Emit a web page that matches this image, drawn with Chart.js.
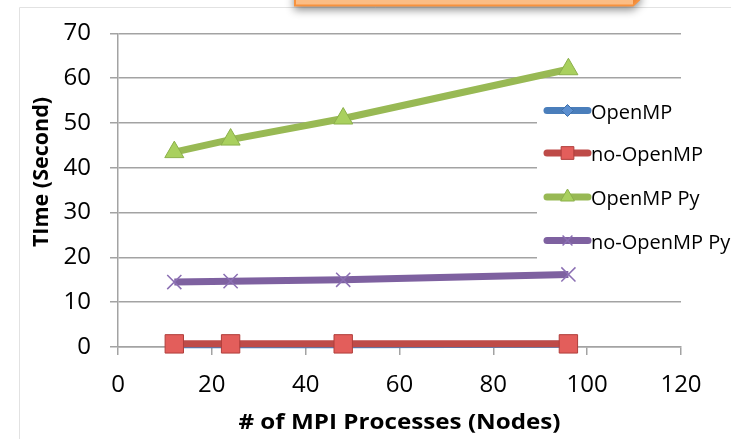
<!DOCTYPE html>
<html>
<head>
<meta charset="utf-8">
<script src="https://cdn.jsdelivr.net/npm/chart.js@4/dist/chart.umd.min.js"></script>
<style>
  html, body { margin: 0; padding: 0; background: #ffffff; }
  #wrap { width: 731px; height: 439px; position: relative; }
</style>
</head>
<body>
<div id="wrap"><canvas id="chart" width="731" height="439"></canvas></div>
<script>
// Number of MPI processes (nodes) on the x axis
const processes = [12, 24, 48, 96];

// Run time in seconds for each configuration
const openmp = [0.5, 0.5, 0.5, 0.6];
const noOpenmp = [0.7, 0.7, 0.7, 0.7];
const openmpPy = [43.5, 46.3, 51, 62];
const noOpenmpPy = [14.5, 14.7, 15, 16.2];

const seriesNames = ['OpenMP', 'no-OpenMP', 'OpenMP Py', 'no-OpenMP Py'];
const xTickValues = [0, 20, 40, 60, 80, 100, 120];
const yTickValues = [0, 10, 20, 30, 40, 50, 60, 70];

const xTitle = '# of MPI Processes (Nodes)';
const yTitle = 'TIme (Second)';

const FONT = '"Open Sans", "DejaVu Sans", sans-serif';
const GRID = '#a3a3a3';

function points(ys) {
  return processes.map((x, i) => ({ x: x, y: ys[i] }));
}

const styles = [
  { line: '#4a7ebb', fill: '#5b8fd0', edge: '#3f6fa8', pointStyle: 'rectRot', radius: 8, legendRadius: 6, bw: 1 },
  { line: '#be4b48', fill: '#e35e5b', edge: '#b03e3b', pointStyle: 'rect', radius: 13, legendRadius: 9, bw: 1 },
  { line: '#98b954', fill: '#a9d05e', edge: '#8bb04a', pointStyle: 'triangle', radius: 11, legendRadius: 8, bw: 1 },
  { line: '#7e61a0', fill: '#8b6fb3', edge: '#8b6fb3', pointStyle: 'crossRot', radius: 10, legendRadius: 7, bw: 1.5 }
];

const allSeries = [openmp, noOpenmp, openmpPy, noOpenmpPy];

const datasets = allSeries.map((ys, i) => ({
  label: seriesNames[i],
  data: points(ys),
  borderColor: styles[i].line,
  borderWidth: 7,
  pointStyle: styles[i].pointStyle,
  pointRadius: styles[i].radius,
  pointHoverRadius: styles[i].radius,
  pointBackgroundColor: styles[i].fill,
  pointBorderColor: styles[i].edge,
  pointBorderWidth: styles[i].bw,
  tension: 0,
  fill: false,
  clip: false,
  order: 4 - i
}));

// Page frame and the orange callout peeking in at the top
const framePlugin = {
  id: 'frame',
  beforeDraw(chart) {
    const ctx = chart.ctx;
    ctx.save();
    ctx.fillStyle = '#ffffff';
    ctx.fillRect(0, 0, chart.width, chart.height);
    ctx.strokeStyle = '#e2e2e2';
    ctx.lineWidth = 1;
    ctx.beginPath();
    ctx.moveTo(19.5, chart.height);
    ctx.lineTo(19.5, 7.5);
    ctx.lineTo(chart.width, 7.5);
    ctx.stroke();
    ctx.restore();
  },
  afterDraw(chart) {
    const ctx = chart.ctx;
    ctx.save();
    // shadow under the callout
    ctx.shadowColor = 'rgba(0,0,0,0.45)';
    ctx.shadowBlur = 8;
    ctx.shadowOffsetY = 4;
    ctx.fillStyle = '#fcbd85';
    ctx.beginPath();
    ctx.moveTo(294, -10);
    ctx.lineTo(294, 6);
    ctx.lineTo(633, 6);
    ctx.lineTo(641, -2);
    ctx.lineTo(641, -10);
    ctx.closePath();
    ctx.fill();
    ctx.shadowColor = 'transparent';
    // bevelled right side
    ctx.fillStyle = '#f08a3a';
    ctx.beginPath();
    ctx.moveTo(633, 6);
    ctx.lineTo(641, -2);
    ctx.lineTo(641, -10);
    ctx.lineTo(633, -10);
    ctx.closePath();
    ctx.fill();
    ctx.strokeStyle = '#f7923e';
    ctx.lineWidth = 2;
    ctx.beginPath();
    ctx.moveTo(295, -10);
    ctx.lineTo(295, 5.5);
    ctx.lineTo(633, 5.5);
    ctx.lineTo(641, -2);
    ctx.stroke();
    ctx.restore();
  }
};

// Legend laid over the right side of the plot area
const legendPlugin = {
  id: 'insideLegend',
  afterDatasetsDraw(chart) {
    const ctx = chart.ctx;
    const rows = [110.5, 153, 197, 240.5];
    ctx.save();
    ctx.fillStyle = '#ffffff';
    ctx.fillRect(537, 88, 150, 174);
    chart.data.datasets.forEach((ds, i) => {
      const y = rows[i];
      const s = styles[i];
      ctx.strokeStyle = s.line;
      ctx.lineWidth = 7;
      ctx.lineCap = 'round';
      ctx.beginPath();
      ctx.moveTo(547, y);
      ctx.lineTo(588, y);
      ctx.stroke();
      ctx.lineCap = 'butt';
      ctx.fillStyle = s.fill;
      ctx.strokeStyle = s.edge;
      ctx.lineWidth = s.bw;
      Chart.helpers.drawPoint(ctx, { pointStyle: s.pointStyle, radius: s.legendRadius, rotation: 0, borderWidth: s.bw }, 567.5, y);
      ctx.fillStyle = '#000000';
      ctx.font = '20px ' + FONT;
      ctx.textAlign = 'left';
      ctx.textBaseline = 'middle';
      ctx.fillText(ds.label, 591, y + 2.5);
    });
    ctx.restore();
  }
};

// Axis titles
const titlePlugin = {
  id: 'axisTitles',
  afterDraw(chart) {
    const ctx = chart.ctx;
    const area = chart.chartArea;
    ctx.save();
    ctx.fillStyle = '#000000';
    ctx.textAlign = 'center';
    ctx.textBaseline = 'middle';
    ctx.save();
    ctx.translate((area.left + area.right) / 2, 423);
    ctx.scale(1.1, 1);
    ctx.font = 'bold 22px ' + FONT;
    ctx.fillText(xTitle, 0, 0);
    ctx.restore();
    ctx.translate(42, 172);
    ctx.rotate(-Math.PI / 2);
    ctx.font = 'bold 21.5px ' + FONT;
    ctx.fillText(yTitle, 0, 0);
    ctx.restore();
  }
};

new Chart(document.getElementById('chart'), {
  type: 'line',
  data: { datasets: datasets },
  options: {
    responsive: false,
    animation: false,
    events: [],
    layout: { padding: { top: 32, right: 50, bottom: 0, left: 0 } },
    plugins: {
      legend: { display: false },
      tooltip: { enabled: false },
      title: { display: false }
    },
    scales: {
      x: {
        type: 'linear',
        min: 0,
        max: 120,
        afterBuildTicks(scale) { scale.ticks = xTickValues.map(v => ({ value: v })); },
        afterFit(scale) { scale.height = 92; },
        ticks: {
          color: '#000000',
          font: { family: FONT, size: 24 },
          padding: 16,
          maxRotation: 0
        },
        grid: {
          drawOnChartArea: false,
          drawTicks: true,
          tickLength: 8,
          tickColor: GRID,
          lineWidth: 1.5
        },
        border: { display: true, color: GRID, width: 1.5 }
      },
      y: {
        type: 'linear',
        min: 0,
        max: 70,
        afterBuildTicks(scale) { scale.ticks = yTickValues.map(v => ({ value: v })); },
        afterFit(scale) { scale.width = 118; },
        ticks: {
          color: '#000000',
          font: { family: FONT, size: 24 },
          padding: 19
        },
        grid: {
          color: GRID,
          lineWidth: 1.5,
          drawTicks: true,
          tickLength: 8,
          tickColor: GRID
        },
        border: { display: true, color: GRID, width: 1.5 }
      }
    }
  },
  plugins: [framePlugin, legendPlugin, titlePlugin]
});
</script>
</body>
</html>
